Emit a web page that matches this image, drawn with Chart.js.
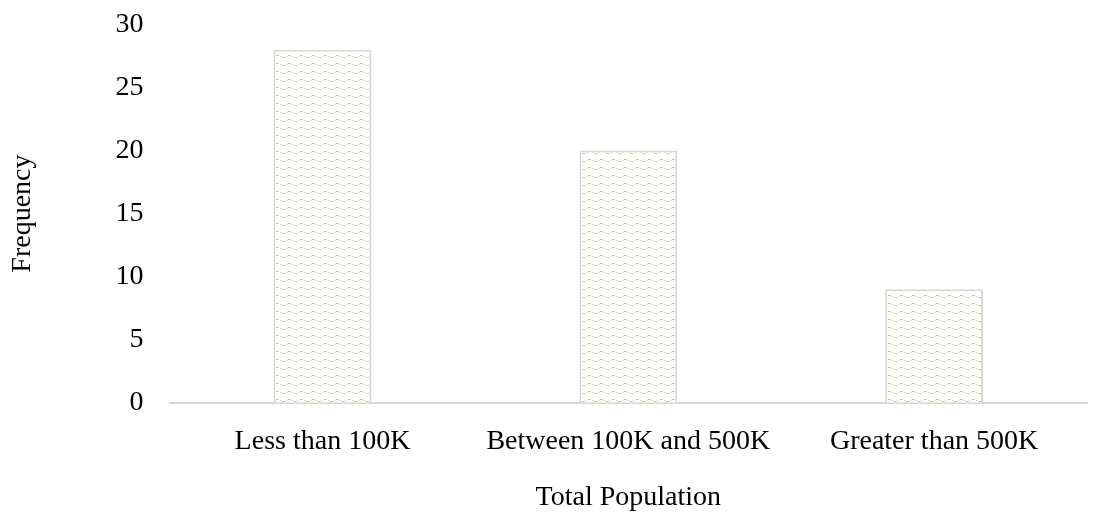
<!DOCTYPE html>
<html>
<head>
<meta charset="utf-8">
<script src="https://cdn.jsdelivr.net/npm/chart.js@4"></script>
<style>
  html, body { margin: 0; padding: 0; background: #ffffff; overflow: hidden; }
  #wrap { width: 1107px; height: 524px; margin-top: -3px; }
</style>
</head>
<body>
<div id="wrap"><canvas id="barChart" width="1107" height="524"></canvas></div>
<script>
const categories = ['Less than 100K', 'Between 100K and 500K', 'Greater than 500K'];
const frequency = [28, 20, 9];
const yTicks = [0, 5, 10, 15, 20, 25, 30];

// small wavy dash tile like the office "weave" fill
function makePattern() {
    const c = document.createElement('canvas');
    c.width = 12; c.height = 8;
    const g = c.getContext('2d');
    g.fillStyle = '#ffffff';
    g.fillRect(0, 0, 12, 8);
    g.fillStyle = '#bcd68e';
    g.fillRect(0, 2, 3, 1);
    g.fillRect(4, 3, 1, 1);
    g.fillRect(6, 4, 3, 1);
    g.fillRect(10, 3, 1, 1);
    return g.createPattern(c, 'repeat');
}

Chart.defaults.font.family = "'Liberation Serif', 'Times New Roman', serif";
Chart.defaults.color = '#000000';

const ctx = document.getElementById('barChart').getContext('2d');
new Chart(ctx, {
    type: 'bar',
    data: {
        labels: categories,
        datasets: [{
            label: 'Frequency',
            data: frequency,
            backgroundColor: makePattern(),
            borderColor: '#d9d9d9',
            borderWidth: 2,
            borderSkipped: 'bottom',
            categoryPercentage: 1,
            barPercentage: 0.32
        }]
    },
    options: {
        responsive: false,
        animation: false,
        layout: { padding: { top: 0, right: 20, bottom: 3, left: 2 } },
        plugins: {
            legend: { display: false },
            tooltip: { enabled: false }
        },
        scales: {
            x: {
                grid: { display: false, drawTicks: false },
                border: { color: '#d9d9d9', width: 2 },
                ticks: { font: { size: 28 }, padding: 22 },
                title: { display: true, text: 'Total Population', font: { size: 28 }, padding: { top: 0 } }
            },
            y: {
                min: 0,
                max: 30,
                afterBuildTicks: (axis) => { axis.ticks = yTicks.map(v => ({ value: v })); },
                grid: { display: false, drawTicks: false },
                border: { display: false },
                ticks: { font: { size: 28, lineHeight: 0.1 }, padding: 26 },
                title: { display: true, text: 'Frequency', font: { size: 28 }, padding: { bottom: 50 } }
            }
        }
    }
});
</script>
</body>
</html>
